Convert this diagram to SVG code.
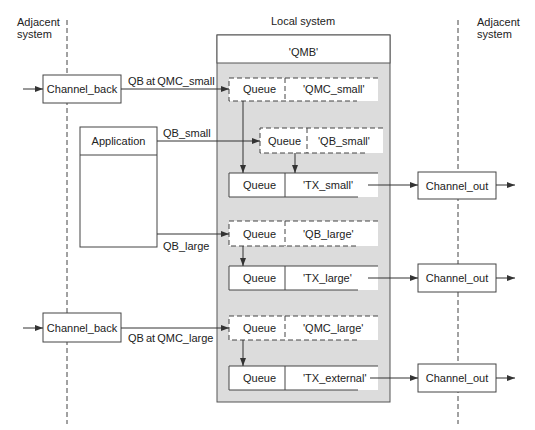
<svg xmlns="http://www.w3.org/2000/svg" width="535" height="430" viewBox="0 0 535 430">
<defs>
<marker id="ah" viewBox="0 0 8 8" refX="8" refY="4" markerWidth="8" markerHeight="8" markerUnits="userSpaceOnUse" orient="auto">
<path d="M0,1 L8,4 L0,7 Z" fill="#333"/>
</marker>
</defs>
<style>
text{font-family:"Liberation Sans",Arial,sans-serif;font-size:11px;fill:#222}
.c{text-anchor:middle}
.box{fill:#fff;stroke:#444;stroke-width:1}
.sol{stroke:#444;stroke-width:1;fill:none}
.dsh{stroke:#444;stroke-width:1;fill:none;stroke-dasharray:5,3}
.wf{fill:#fff;stroke:none}
.sep{stroke:#444;stroke-width:1;fill:none;stroke-dasharray:5,3}
.ln{stroke:#333;stroke-width:1;fill:none;marker-end:url(#ah)}
</style>
<rect width="535" height="430" fill="#fff"/>
<g id="separators">
<line class="sep" x1="67" y1="20" x2="67" y2="424"/>
<line class="sep" x1="458" y1="20" x2="458" y2="424"/>
</g>
<g id="headings">
<text x="17" y="26">Adjacent</text>
<text x="17" y="38">system</text>
<text x="303" y="25" class="c">Local system</text>
<text x="477" y="26">Adjacent</text>
<text x="477" y="38">system</text>
</g>
<g id="local-system">
<rect x="217" y="35" width="173" height="367" fill="#dcdcdc" stroke="#555"/>
<rect x="217" y="35" width="173" height="28" fill="#fff" stroke="#555"/>
<text x="303.5" y="56" class="c">'QMB'</text>
</g>
<g id="q-qmc-small">
<rect class="wf" x="229" y="78" width="149" height="23"/>
<path class="dsh" d="M378,78 H229 V101 H357 M285,78 V101"/>
<text x="243" y="93">Queue</text>
<text x="303" y="93">'QMC_small'</text>
</g>
<g id="q-qb-small">
<rect class="wf" x="260" y="128" width="123" height="25"/>
<path class="dsh" d="M383,128 H260 V153 H365 M307,128 V153"/>
<text x="268" y="144.5">Queue</text>
<text x="318" y="144.5">'QB_small'</text>
</g>
<g id="q-tx-small">
<rect class="wf" x="229" y="173" width="149" height="24"/>
<path class="sol" d="M378,173 H229 V197 H358 M285,173 V197"/>
<text x="243" y="189">Queue</text>
<text x="303" y="189">'TX_small'</text>
</g>
<g id="q-qb-large">
<rect class="wf" x="229" y="221" width="149" height="25"/>
<path class="dsh" d="M378,221 H229 V246 H357 M285,221 V246"/>
<text x="243" y="237.5">Queue</text>
<text x="303" y="237.5">'QB_large'</text>
</g>
<g id="q-tx-large">
<rect class="wf" x="229" y="266" width="149" height="24"/>
<path class="sol" d="M378,266 H229 V290 H358 M285,266 V290"/>
<text x="243" y="282">Queue</text>
<text x="303" y="282">'TX_large'</text>
</g>
<g id="q-qmc-large">
<rect class="wf" x="229" y="316" width="149" height="24"/>
<path class="dsh" d="M378,316 H229 V340 H357 M285,316 V340"/>
<text x="243" y="332">Queue</text>
<text x="303" y="332">'QMC_large'</text>
</g>
<g id="q-tx-external">
<rect class="wf" x="229" y="366" width="149" height="24"/>
<path class="sol" d="M378,366 H229 V390 H358 M285,366 V390"/>
<text x="243" y="382">Queue</text>
<text x="303" y="382">'TX_external'</text>
</g>
<g id="channel-back-1">
<rect class="box" x="43" y="75" width="78" height="28"/>
<text x="82" y="93" class="c">Channel_back</text>
</g>
<g id="channel-back-2">
<rect class="box" x="43" y="313" width="78" height="29"/>
<text x="82" y="332" class="c">Channel_back</text>
</g>
<g id="application">
<rect class="box" x="80" y="127" width="77" height="120"/>
<line class="sol" x1="80" y1="155" x2="157" y2="155"/>
<text x="118.5" y="145" class="c">Application</text>
</g>
<g id="channel-out-1">
<rect class="box" x="418" y="172" width="78" height="27"/>
<text x="457" y="189.5" class="c">Channel_out</text>
</g>
<g id="channel-out-2">
<rect class="box" x="418" y="264" width="78" height="28"/>
<text x="457" y="282" class="c">Channel_out</text>
</g>
<g id="channel-out-3">
<rect class="box" x="418" y="364" width="78" height="28"/>
<text x="457" y="382" class="c">Channel_out</text>
</g>
<g id="connectors">
<line class="ln" x1="23" y1="89" x2="43" y2="89"/>
<line class="ln" x1="121" y1="89" x2="229" y2="89"/>
<line class="ln" x1="23" y1="328" x2="43" y2="328"/>
<line class="ln" x1="121" y1="328" x2="229" y2="328"/>
<line class="ln" x1="157" y1="141" x2="260" y2="141"/>
<line class="ln" x1="157" y1="234" x2="229" y2="234"/>
<line class="ln" x1="243" y1="101" x2="243" y2="173"/>
<line class="ln" x1="295" y1="153" x2="295" y2="173"/>
<line class="ln" x1="243" y1="246" x2="243" y2="266"/>
<line class="ln" x1="243" y1="340" x2="243" y2="366"/>
<line class="ln" x1="368" y1="185" x2="418" y2="185"/>
<line class="ln" x1="368" y1="278" x2="418" y2="278"/>
<line class="ln" x1="370" y1="378" x2="418" y2="378"/>
<line class="ln" x1="496" y1="185" x2="515" y2="185"/>
<line class="ln" x1="496" y1="278" x2="515" y2="278"/>
<line class="ln" x1="496" y1="378" x2="515" y2="378"/>
<text x="128" y="85" word-spacing="-1">QB at QMC_small</text>
<text x="163" y="137">QB_small</text>
<text x="163" y="250">QB_large</text>
<text x="128" y="342" word-spacing="-1">QB at QMC_large</text>
</g>
</svg>
